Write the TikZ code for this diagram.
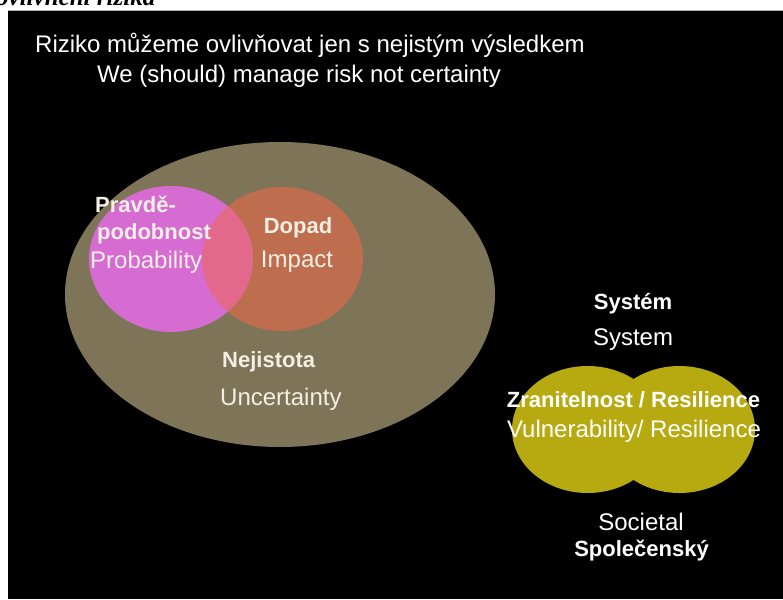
\documentclass[tikz,border=0pt]{standalone}
\usepackage{fontspec}
\setmainfont{Liberation Sans}
\newfontfamily\headserif{Liberation Serif}
\usepackage{xcolor}
\definecolor{uncertain}{RGB}{126,116,88}
\definecolor{probab}{RGB}{214,108,210}
\definecolor{impact}{RGB}{190,110,78}
\definecolor{overlap}{RGB}{226,104,140}
\definecolor{vulner}{RGB}{183,170,16}
\definecolor{cream}{RGB}{243,239,228}

\begin{document}
\begin{tikzpicture}[x=1pt, y=-1pt,
    lbl/.style={inner sep=0pt, anchor=base, text=white},
    boldlbl/.style={lbl, font=\fontsize{22}{26}\selectfont\bfseries},
    thinlbl/.style={lbl, font=\fontsize{24}{28}\selectfont}]
  \useasboundingbox (0,0) rectangle (783,599);
  \clip (0,0) rectangle (783,599);
  % cut-off heading of the page
  \node[inner sep=0pt, anchor=base west, font=\fontsize{25}{30}\selectfont\headserif\bfseries\itshape]
    (head) at (-4,6) {ovlivnění rizika};
  % slide
  \fill[black] (8,10) rectangle (783,599);
  \draw[gray!60, thin] (8,10) -- (783,10);
  \node[thinlbl, anchor=base west] (title) at (35,53) {Riziko můžeme ovlivňovat jen s nejistým výsledkem};
  \node[thinlbl, anchor=base west] (subtitle) at (97,83) {We (should) manage risk not certainty};
  % uncertainty with probability and impact
  \fill[uncertain] (280,294.5) ellipse (215pt and 152.5pt);
  \fill[impact] (282.5,259) ellipse (80.5pt and 72pt);
  \fill[probab] (171,259) ellipse (82pt and 73pt);
  \begin{scope}
    \clip (282.5,259) ellipse (80.5pt and 72pt);
    \fill[overlap] (171,259) ellipse (82pt and 73pt);
  \end{scope}
  \node[boldlbl, anchor=base west, text=cream] (pravde) at (95,212) {Pravdě-};
  \node[boldlbl, anchor=base west, text=cream] (podob) at (97,239) {podobnost};
  \node[thinlbl, anchor=base west, text=cream] (prob) at (90,268) {Probability};
  \node[boldlbl, text=cream] (dopad) at (298,233) {Dopad};
  \node[thinlbl, text=cream] (imp) at (297,267) {Impact};
  \node[boldlbl, anchor=base west, text=cream] (nejist) at (222,367) {Nejistota};
  \node[thinlbl, anchor=base west, text=cream] (uncert) at (220,405) {Uncertainty};
  % system / societal resilience
  \fill[vulner] (587.6,429.5) ellipse (75.6pt and 63.5pt);
  \fill[vulner] (679.4,429.5) ellipse (75.6pt and 63.5pt);
  \node[boldlbl] (systcz) at (633,309) {Systém};
  \node[thinlbl] (systen) at (633,345) {System};
  \node[boldlbl] (zranit) at (633.5,407) {Zranitelnost / Resilience};
  \node[thinlbl] (vulnen) at (634,437) {Vulnerability/ Resilience};
  \node[thinlbl] (societ) at (641,530) {Societal};
  \node[boldlbl] (spolec) at (641.5,556) {Společenský};
\end{tikzpicture}
\end{document}
